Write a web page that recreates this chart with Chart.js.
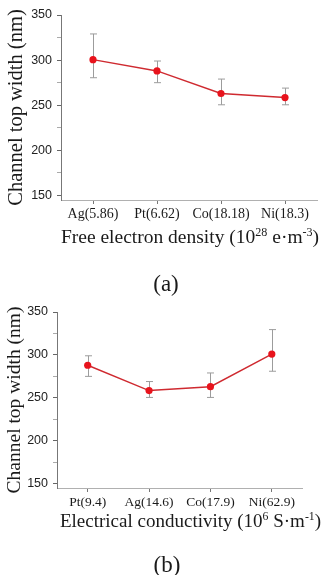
<!DOCTYPE html>
<html>
<head>
<meta charset="utf-8">
<script src="https://cdn.jsdelivr.net/npm/chart.js@4.4.0/dist/chart.umd.min.js"></script>
<style>
  body { margin: 0; background: #fff; width: 321px; height: 575px; position: relative; overflow: hidden; }
  .box { position: absolute; left: 0; }
  .cap { position: absolute; font-family: "Liberation Serif", "Times New Roman", serif; font-size: 23px; color: #1a1a1a; transform: translate(-50%, -50%); }
</style>
</head>
<body>
<div class="box" style="top:0"><canvas id="chartA" width="321" height="250"></canvas></div>
<div class="box" style="top:290px"><canvas id="chartB" width="321" height="260"></canvas></div>
<div class="cap" style="left:166px; top:284px">(a)</div>
<div class="cap" style="left:167px; top:565px">(b)</div>
<script>
// panel (a): free electron density
var labelsA = ['Ag(5.86)', 'Pt(6.62)', 'Co(18.18)', 'Ni(18.3)'];
var widthA = [300.5, 288, 263, 258.5];
var lowA = [280.5, 275, 250.5, 250.5];
var highA = [329, 299, 279, 269];
var titleA = [['Free electron density (10', false], ['28', true], [' e\u00b7m', false], ['-3', true], [')', false]];

// panel (b): electrical conductivity
var labelsB = ['Pt(9.4)', 'Ag(14.6)', 'Co(17.9)', 'Ni(62.9)'];
var widthB = [288, 258.5, 263, 301];
var lowB = [275, 250.5, 250.5, 281];
var highB = [299, 269, 279, 329.5];
var titleB = [['Electrical conductivity (10', false], ['6', true], [' S\u00b7m', false], ['-1', true], [')', false]];

var yTicks = [150, 175, 200, 225, 250, 275, 300, 325, 350];
var yTitle = 'Channel top width (nm)';

var serif = '"Liberation Serif", "Times New Roman", serif';
var sans = '"Liberation Sans", Arial, sans-serif';

// gray error bars with caps, drawn under the line
var errorBars = {
  id: 'errorBars',
  beforeDatasetsDraw: function (chart, args, opts) {
    var ctx = chart.ctx, x = chart.scales.x, y = chart.scales.y;
    ctx.save();
    ctx.strokeStyle = '#9c9c9c';
    ctx.lineWidth = 1;
    opts.low.forEach(function (lo, i) {
      var px = Math.round(x.getPixelForValue(i)) + 0.5;
      var y1 = y.getPixelForValue(lo), y2 = y.getPixelForValue(opts.high[i]);
      ctx.beginPath();
      ctx.moveTo(px, y1); ctx.lineTo(px, y2);
      ctx.moveTo(px - 3.5, y1); ctx.lineTo(px + 3.5, y1);
      ctx.moveTo(px - 3.5, y2); ctx.lineTo(px + 3.5, y2);
      ctx.stroke();
    });
    ctx.restore();
  }
};

// x axis title with superscripts
var richTitle = {
  id: 'richTitle',
  afterDraw: function (chart, args, opts) {
    var ctx = chart.ctx, size = opts.size, supSize = size * 0.62;
    ctx.save();
    ctx.fillStyle = '#1a1a1a';
    ctx.textBaseline = 'alphabetic';
    var total = 0;
    opts.parts.forEach(function (p) {
      ctx.font = (p[1] ? supSize : size) + 'px ' + serif;
      total += ctx.measureText(p[0]).width;
    });
    var x = opts.cx - total / 2, base = chart.chartArea.bottom + opts.dy + size * 0.33;
    opts.parts.forEach(function (p) {
      ctx.font = (p[1] ? supSize : size) + 'px ' + serif;
      ctx.fillText(p[0], x, p[1] ? base - size * 0.38 : base);
      x += ctx.measureText(p[0]).width;
    });
    ctx.restore();
  }
};

function makeChart(id, labels, values, low, high, title, lay) {
  return new Chart(document.getElementById(id), {
    type: 'line',
    data: {
      labels: labels,
      datasets: [{
        data: values,
        borderColor: '#cf2a30',
        borderWidth: 1.4,
        backgroundColor: '#e8131c',
        pointBackgroundColor: '#e8131c',
        pointBorderWidth: 0,
        pointRadius: 3.6,
        tension: 0
      }]
    },
    options: {
      responsive: false,
      animation: false,
      layout: { padding: { top: lay.top, right: lay.right, left: 0, bottom: 0 } },
      plugins: {
        legend: { display: false },
        tooltip: { enabled: false },
        errorBars: { low: low, high: high },
        richTitle: { parts: title, cx: lay.cx, dy: lay.titleDy, size: lay.titleSize }
      },
      scales: {
        x: {
          type: 'category',
          offset: true,
          grid: { drawOnChartArea: false, tickLength: 4, color: '#777' },
          border: { color: '#b0b0b0', width: 1 },
          ticks: { padding: 2, color: '#1a1a1a', font: { family: serif, size: lay.tickSize }, maxRotation: 0, autoSkip: false },
          afterFit: function (s) { s.height = lay.xHeight; }
        },
        y: {
          min: 145,
          max: 350,
          afterBuildTicks: function (s) { s.ticks = yTicks.map(function (v) { return { value: v }; }); },
          grid: {
            drawOnChartArea: false,
            tickLength: 4,
            tickColor: function (c) { return c.tick && c.tick.value % 50 === 0 ? '#666' : '#aaa'; }
          },
          border: { color: '#777', width: 1 },
          ticks: {
            padding: 5,
            color: '#222',
            font: { family: sans, size: 12.5 },
            callback: function (v) { return v % 50 === 0 ? v : ''; }
          },
          title: { display: true, text: yTitle, color: '#1a1a1a', font: { family: serif, size: lay.yTitleSize }, padding: { top: lay.yTitlePad, bottom: 0 } },
          afterFit: function (s) { s.width = lay.yWidth; }
        }
      }
    },
    plugins: [errorBars, richTitle]
  });
}

makeChart('chartA', labelsA, widthA, lowA, highA, titleA,
  { top: 15, right: 2, yWidth: 61, xHeight: 50, cx: 190, titleDy: 37, titleSize: 19.5, tickSize: 14, yTitleSize: 20.5, yTitlePad: 4 });
makeChart('chartB', labelsB, widthB, lowB, highB, titleB,
  { top: 22, right: 18.5, yWidth: 57, xHeight: 62, cx: 190.5, titleDy: 33, titleSize: 19, tickSize: 13.5, yTitleSize: 19.5, yTitlePad: 3 });
</script>
</body>
</html>
